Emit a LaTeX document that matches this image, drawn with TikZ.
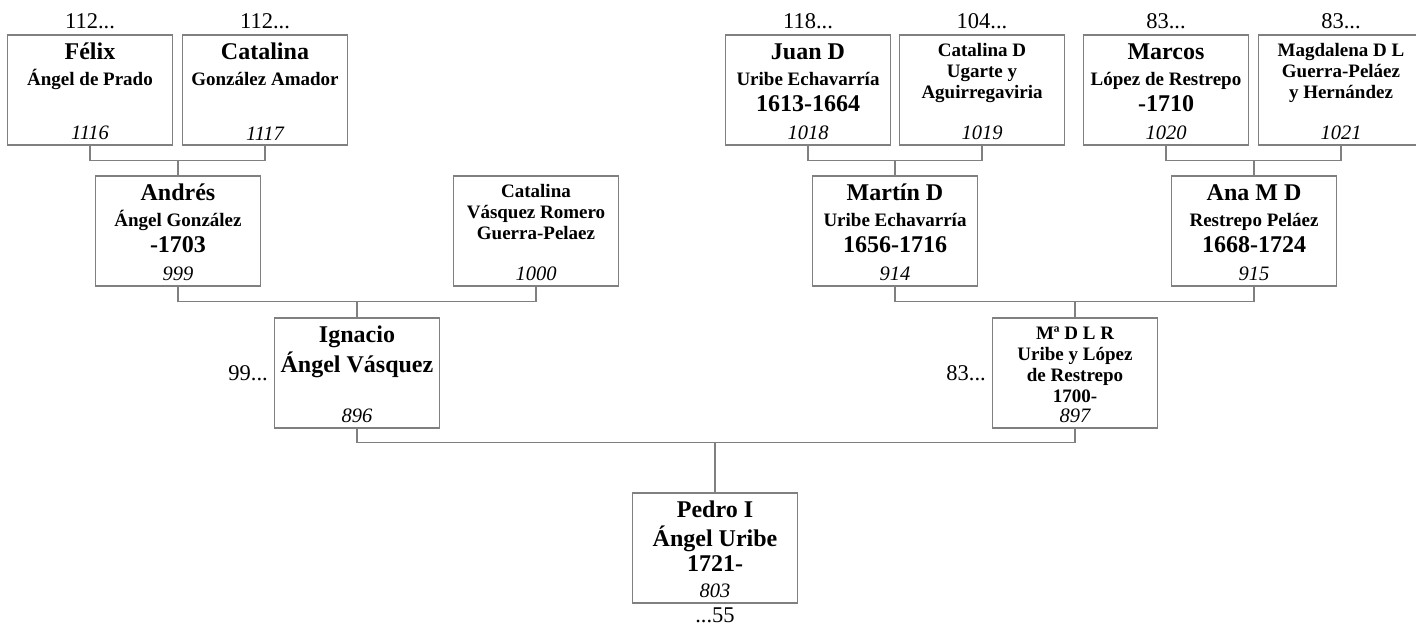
\documentclass[tikz,border=0pt]{standalone}
\usepackage{fontspec}
\setmainfont{Liberation Serif}
\usetikzlibrary{positioning}
\definecolor{treeGray}{RGB}{128,128,128}

% big bold line inside a box
\newcommand{\tbig}[1]{{\fontsize{24}{26}\selectfont #1}}
% box content: #1 line skip, #2 lines, #3 number at the bottom
\newcommand{\pcard}[3]{\parbox[c][110pt][s]{163pt}{\centering
  \fontsize{19}{#1}\selectfont\bfseries\vspace*{6.5pt}\strut #2\par\vfill
  {\fontsize{20.5}{20}\selectfont\mdseries\itshape #3\par}\vspace{5pt}}}

\begin{document}
\begin{tikzpicture}[x=1pt, y=-1pt,
  % ── person boxes ──
  pbox/.style={draw=treeGray, line width=1.1pt, rectangle,
               minimum width=165pt, minimum height=110pt, inner sep=0pt},
  % ── counts beside the boxes ──
  anc/.style={inner sep=0pt, font=\fontsize{22.5}{22}\selectfont},
  % ── connectors ──
  link/.style={treeGray, line width=1.1pt},
]
\useasboundingbox (0,0) rectangle (1416,626);

\def\ra{90}    % row 1 centre y
\def\rb{231}   % row 2 centre y
\def\rc{373}   % row 3 centre y
\def\rd{548}   % row 4 centre y

%% ─── 1. great-grandparents ─────────────────────────────────────
\node[pbox] (felix)     at (90,\ra)   {\pcard{26}{\tbig{Félix}\\Ángel de Prado}{1116}};
\node[pbox] (catalina)  at (265,\ra)  {\pcard{26}{\tbig{Catalina}\\González Amador}{1117}};
\node[pbox] (juan)      at (808,\ra)  {\pcard{26}{\tbig{Juan D}\\Uribe Echavarría\\\tbig{1613-1664}}{1018}};
\node[pbox] (catalinad) at (982,\ra)  {\pcard{21}{Catalina D\\Ugarte y\\Aguirregaviria}{1019}};
\node[pbox] (marcos)    at (1166,\ra) {\pcard{26}{\tbig{Marcos}\\López de Restrepo\\\tbig{-1710}}{1020}};
\node[pbox] (magdalena) at (1341,\ra) {\pcard{21}{Magdalena D L\\Guerra-Peláez\\y Hernández}{1021}};

%% ─── 2. grandparents ───────────────────────────────────────────
\node[pbox] (andres)    at (178,\rb)  {\pcard{26}{\tbig{Andrés}\\Ángel González\\\tbig{-1703}}{999}};
\node[pbox] (catalinav) at (536,\rb)  {\pcard{21}{Catalina\\Vásquez Romero\\Guerra-Pelaez}{1000}};
\node[pbox] (martin)    at (895,\rb)  {\pcard{26}{\tbig{Martín D}\\Uribe Echavarría\\\tbig{1656-1716}}{914}};
\node[pbox] (ana)       at (1254,\rb) {\pcard{26}{\tbig{Ana M D}\\Restrepo Peláez\\\tbig{1668-1724}}{915}};

%% ─── 3. parents ────────────────────────────────────────────────
\node[pbox] (ignacio) at (357,\rc)  {\pcard{26}{\tbig{Ignacio}\\\tbig{Ángel Vásquez}}{896}};
\node[pbox] (mdlr)    at (1075,\rc) {\pcard{21}{Mª D L R\\Uribe y López\\de Restrepo\\1700-}{897}};

%% ─── 4. root ───────────────────────────────────────────────────
\node[pbox] (pedro) at (715,\rd) {\pcard{25}{\tbig{Pedro I}\\\tbig{Ángel Uribe}\\\tbig{1721-}}{803}};

%% ─── 5. counts ─────────────────────────────────────────────────
\node[anc, above=5pt of felix]     (felix-n)     {112...};
\node[anc, above=5pt of catalina]  (catalina-n)  {112...};
\node[anc, above=5pt of juan]      (juan-n)      {118...};
\node[anc, above=5pt of catalinad] (catalinad-n) {104...};
\node[anc, above=5pt of marcos]    (marcos-n)    {83...};
\node[anc, above=5pt of magdalena] (magdalena-n) {83...};
\node[anc, left=6pt of ignacio]    (ignacio-n)   {99...};
\node[anc, left=6pt of mdlr]       (mdlr-n)      {83...};
\node[anc, below=4pt of pedro]     (pedro-n)     {...55};

%% ─── 6. couple → child connectors ─────────────────────────────
\foreach \fa/\mo/\ch/\gap in {felix/catalina/andres/15, juan/catalinad/martin/15,
    marcos/magdalena/ana/15, andres/catalinav/ignacio/16, martin/ana/mdlr/16,
    ignacio/mdlr/pedro/50}{
  \coordinate (j-\ch) at ([yshift=\gap pt]\ch.north);
  \draw[link] (\fa.south) |- (j-\ch) -| (\mo.south);
  \draw[link] (j-\ch) -- (\ch.north);
}

\end{tikzpicture}
\end{document}
